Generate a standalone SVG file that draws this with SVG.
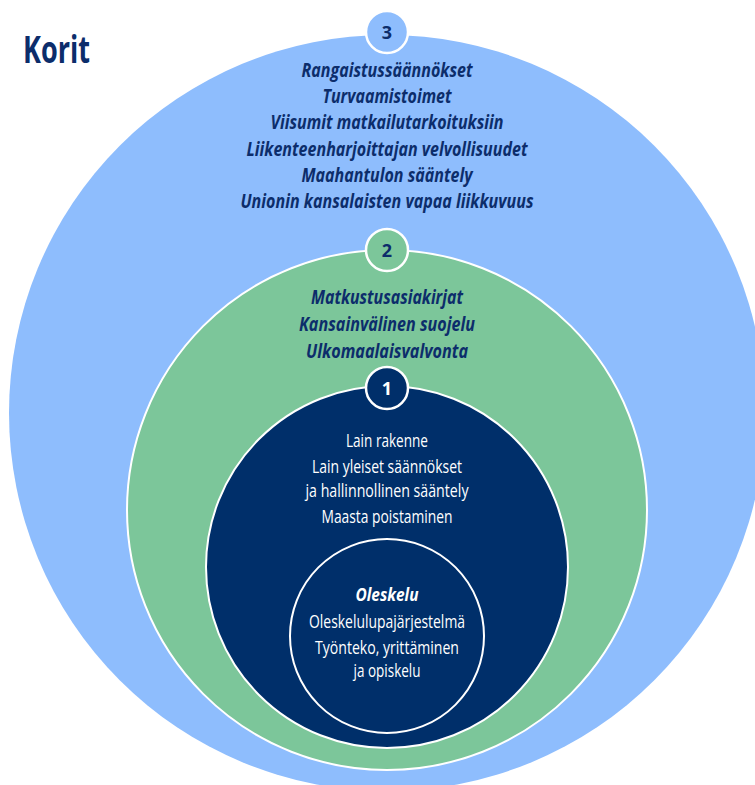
<svg xmlns="http://www.w3.org/2000/svg" width="755" height="785" viewBox="0 0 755 785">
  <style>
    .ring3 { fill: #8EBDFD; }
    .ring2 { fill: #7CC69A; stroke: #FFFFFF; stroke-width: 2; }
    .ring1 { fill: #002F6A; stroke: #FFFFFF; stroke-width: 2; }
    .core { fill: none; stroke: #FFFFFF; stroke-width: 2; }
    .badge { stroke: #FFFFFF; stroke-width: 2.5; }
    .num { font-family: "Open Sans", "Liberation Sans", sans-serif; font-weight: 700; font-size: 18px; text-anchor: middle; }
    .lbl { font-family: "Open Sans", "Liberation Sans", sans-serif; font-style: italic; font-weight: 700; font-size: 20px; fill: #0C2D6B; text-anchor: middle; }
    .wlbl { font-family: "Open Sans", "Liberation Sans", sans-serif; font-weight: 500; font-size: 18.5px; fill: #FFFFFF; text-anchor: middle; }
    .wlbl.em { font-style: italic; font-weight: 700; }
    .title { font-family: "Open Sans", "Liberation Sans", sans-serif; font-weight: 700; font-size: 38px; fill: #0C2D6B; }
  </style>
  <rect width="755" height="785" fill="#FFFFFF"/>

  <g id="title">
    <text class="title" x="23" y="62.5" textLength="67" lengthAdjust="spacingAndGlyphs">Korit</text>
  </g>

  <g id="ring-3">
    <circle class="ring3" cx="387" cy="413" r="378"/>
  </g>
  <g id="ring-2">
    <circle class="ring2" cx="387" cy="510" r="260"/>
  </g>
  <g id="ring-1">
    <circle class="ring1" cx="387" cy="567" r="181"/>
  </g>
  <g id="core">
    <circle class="core" cx="387" cy="636" r="97"/>
  </g>

  <g id="connectors"/>

  <g id="ring-3-labels">
    <circle class="badge" cx="387" cy="32" r="21" fill="#8EBDFD"/>
    <text class="num" x="387" y="38.5" fill="#0C2D6B">3</text>
    <text class="lbl" x="387" y="77" textLength="171" lengthAdjust="spacingAndGlyphs">Rangaistussäännökset</text>
    <text class="lbl" x="387" y="103" textLength="129" lengthAdjust="spacingAndGlyphs">Turvaamistoimet</text>
    <text class="lbl" x="387" y="129.3" textLength="233" lengthAdjust="spacingAndGlyphs">Viisumit matkailutarkoituksiin</text>
    <text class="lbl" x="387" y="155.7" textLength="281" lengthAdjust="spacingAndGlyphs">Liikenteenharjoittajan velvollisuudet</text>
    <text class="lbl" x="387" y="182" textLength="171" lengthAdjust="spacingAndGlyphs">Maahantulon sääntely</text>
    <text class="lbl" x="387" y="208.3" textLength="293" lengthAdjust="spacingAndGlyphs">Unionin kansalaisten vapaa liikkuvuus</text>
  </g>

  <g id="ring-2-labels">
    <circle class="badge" cx="387" cy="250" r="21" fill="#7CC69A"/>
    <text class="num" x="387" y="257" fill="#0C2D6B">2</text>
    <text class="lbl" x="387" y="304" textLength="152" lengthAdjust="spacingAndGlyphs">Matkustusasiakirjat</text>
    <text class="lbl" x="387" y="331" textLength="176" lengthAdjust="spacingAndGlyphs">Kansainvälinen suojelu</text>
    <text class="lbl" x="387" y="358" textLength="162" lengthAdjust="spacingAndGlyphs">Ulkomaalaisvalvonta</text>
  </g>

  <g id="ring-1-labels">
    <circle class="badge" cx="387" cy="388" r="21" fill="#002F6A"/>
    <text class="num" x="387" y="395" fill="#FFFFFF">1</text>
    <text class="wlbl" x="387" y="446.7" textLength="82" lengthAdjust="spacingAndGlyphs">Lain rakenne</text>
    <text class="wlbl" x="387" y="473.3" textLength="150" lengthAdjust="spacingAndGlyphs">Lain yleiset säännökset</text>
    <text class="wlbl" x="387" y="496.7" textLength="163" lengthAdjust="spacingAndGlyphs">ja hallinnollinen sääntely</text>
    <text class="wlbl" x="387" y="523.3" textLength="131" lengthAdjust="spacingAndGlyphs">Maasta poistaminen</text>
  </g>

  <g id="core-labels">
    <text class="wlbl em" x="387" y="601" textLength="63" lengthAdjust="spacingAndGlyphs">Oleskelu</text>
    <text class="wlbl" x="387" y="627.7" textLength="156" lengthAdjust="spacingAndGlyphs">Oleskelulupajärjestelmä</text>
    <text class="wlbl" x="387" y="654.3" textLength="144" lengthAdjust="spacingAndGlyphs">Työnteko, yrittäminen</text>
    <text class="wlbl" x="387" y="677" textLength="67" lengthAdjust="spacingAndGlyphs">ja opiskelu</text>
  </g>
</svg>
